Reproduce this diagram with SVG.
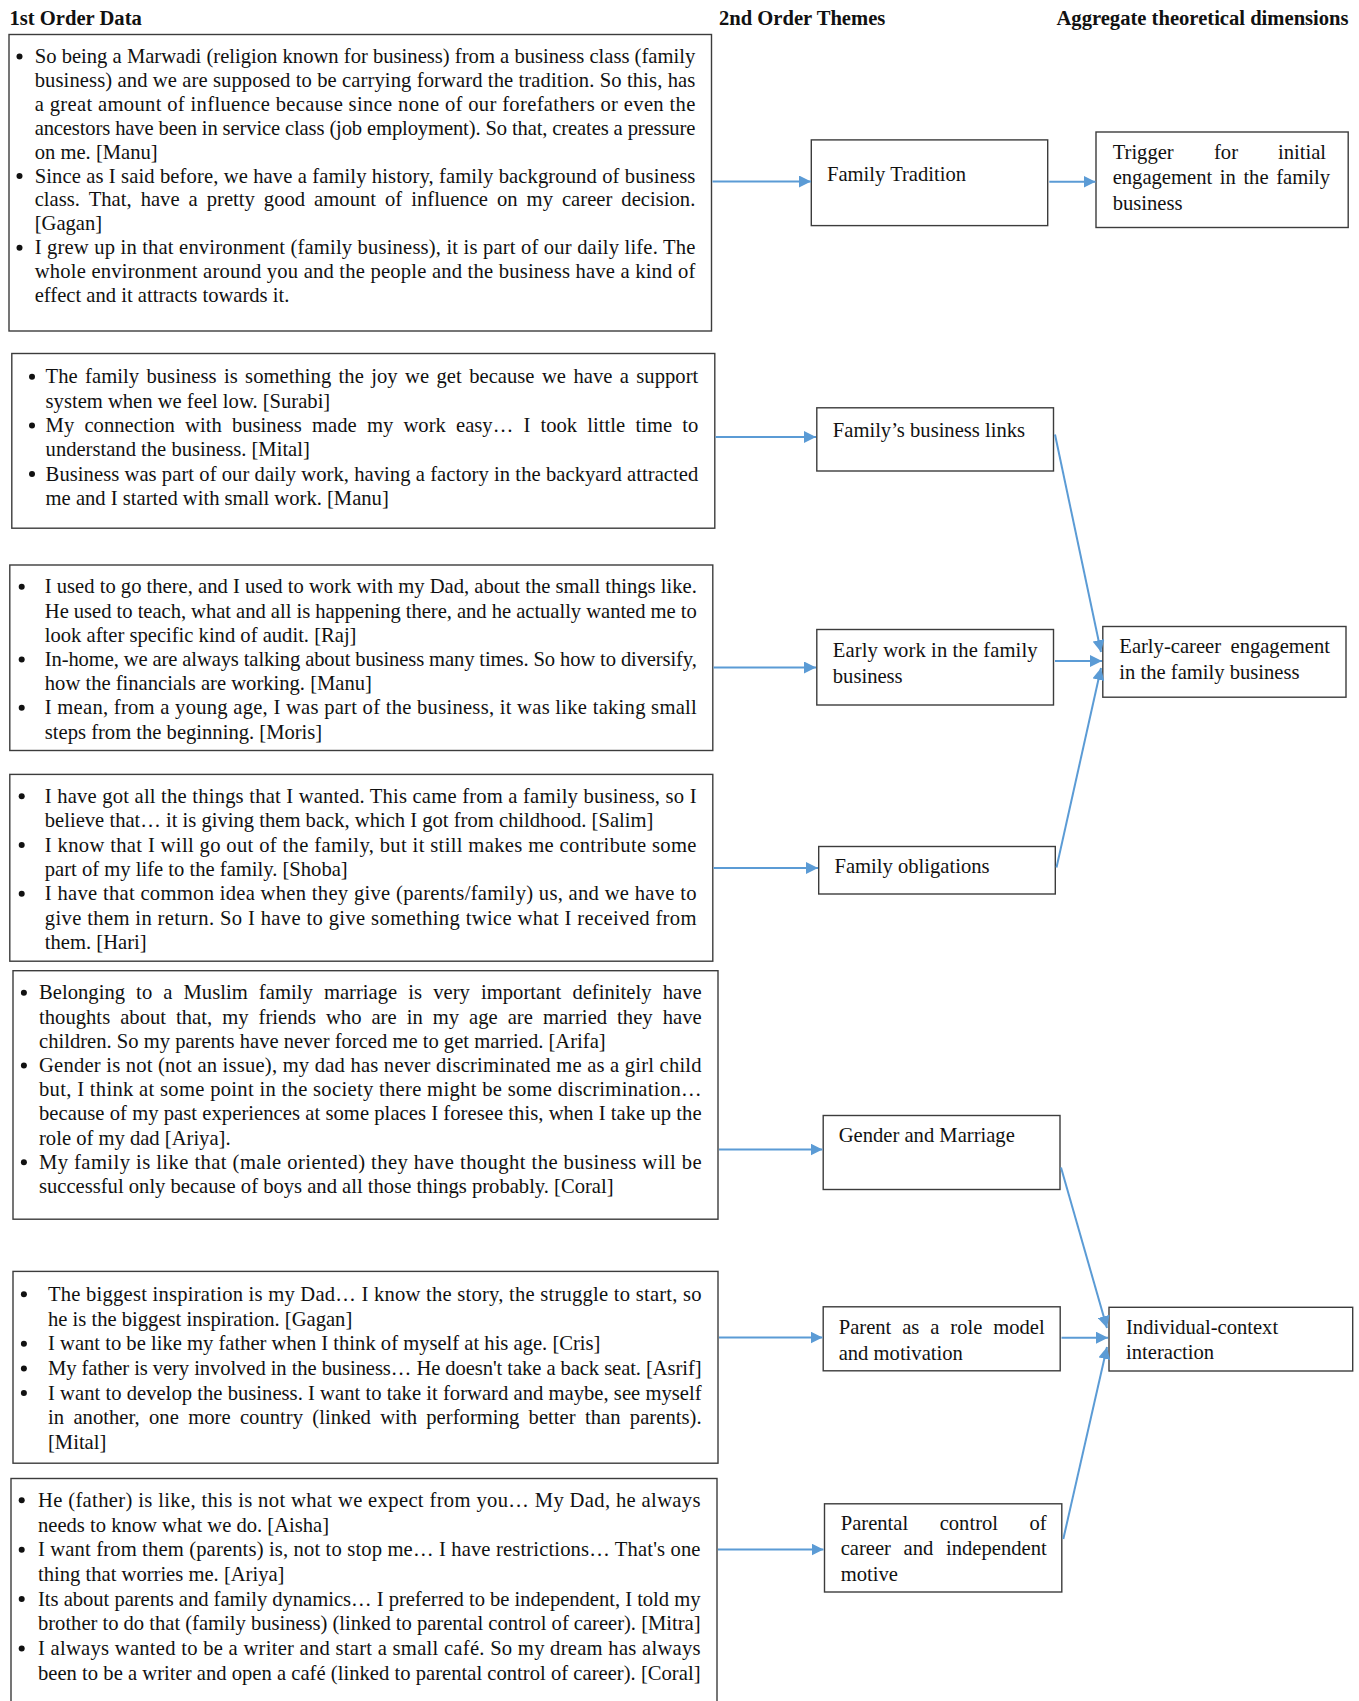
<svg xmlns="http://www.w3.org/2000/svg" width="1359" height="1701" viewBox="0 0 1359 1701">
<style>
.bg{fill:#ffffff}
.box{fill:none;stroke:#3c3c3c;stroke-width:1.4}
.t{font-family:"Liberation Serif","Times New Roman",serif;font-size:20.6px;fill:#111111}
.h{font-weight:bold}
.b{fill:#111111}
.c{stroke:#5B9BD5;stroke-width:2;fill:none;marker-end:url(#ah)}
</style>
<defs>
<marker id="ah" markerUnits="userSpaceOnUse" markerWidth="12" markerHeight="12" refX="12" refY="6" orient="auto">
<path d="M0,0 L12,6 L0,12 z" fill="#5B9BD5"/>
</marker>
</defs>
<rect class="bg" x="0" y="0" width="1359" height="1701"/>

<g id="headers">
<text class="t h" x="9.5" y="24.5">1st Order Data</text>
<text class="t h" x="719" y="24.5">2nd Order Themes</text>
<text class="t h" x="1056.5" y="24.5">Aggregate theoretical dimensions</text>
</g>

<g id="data1">
<rect class="box" x="9" y="34.5" width="702.5" height="296.5"/>
<circle class="b" cx="19.5" cy="56.5" r="3"/>
<circle class="b" cx="19.5" cy="176" r="3"/>
<circle class="b" cx="19.5" cy="247.7" r="3"/>
<text class="t" x="34.7" y="63" textLength="660.6" lengthAdjust="spacing">So being a Marwadi (religion known for business) from a business class (family</text>
<text class="t" x="34.7" y="86.9" textLength="660.6" lengthAdjust="spacing">business) and we are supposed to be carrying forward the tradition. So this, has</text>
<text class="t" x="34.7" y="110.8" textLength="660.6" lengthAdjust="spacing">a great amount of influence because since none of our forefathers or even the</text>
<text class="t" x="34.7" y="134.7" textLength="660.6" lengthAdjust="spacing">ancestors have been in service class (job employment). So that, creates a pressure</text>
<text class="t" x="34.7" y="158.6">on me. [Manu]</text>
<text class="t" x="34.7" y="182.5" textLength="660.6" lengthAdjust="spacing">Since as I said before, we have a family history, family background of business</text>
<text class="t" x="34.7" y="206.4" textLength="660.6" lengthAdjust="spacing" word-spacing="3.8">class. That, have a pretty good amount of influence on my career decision.</text>
<text class="t" x="34.7" y="230.3">[Gagan]</text>
<text class="t" x="34.7" y="254.2" textLength="660.6" lengthAdjust="spacing">I grew up in that environment (family business), it is part of our daily life. The</text>
<text class="t" x="34.7" y="278.1" textLength="660.6" lengthAdjust="spacing">whole environment around you and the people and the business have a kind of</text>
<text class="t" x="34.7" y="302">effect and it attracts towards it.</text>
</g>

<g id="data2">
<rect class="box" x="11.8" y="353.5" width="703" height="174.7"/>
<circle class="b" cx="32" cy="376.8" r="3"/>
<circle class="b" cx="32" cy="425.4" r="3"/>
<circle class="b" cx="32" cy="474" r="3"/>
<text class="t" x="45.6" y="383.3" textLength="652.7" lengthAdjust="spacing" word-spacing="2.2">The family business is something the joy we get because we have a support</text>
<text class="t" x="45.6" y="407.6">system when we feel low. [Surabi]</text>
<text class="t" x="45.6" y="431.9" textLength="652.7" lengthAdjust="spacing" word-spacing="5">My connection with business made my work easy… I took little time to</text>
<text class="t" x="45.6" y="456.2">understand the business. [Mital]</text>
<text class="t" x="45.6" y="480.5" textLength="652.7" lengthAdjust="spacing">Business was part of our daily work, having a factory in the backyard attracted</text>
<text class="t" x="45.6" y="504.8">me and I started with small work. [Manu]</text>
</g>

<g id="data3">
<rect class="box" x="9.8" y="565" width="703" height="185.5"/>
<circle class="b" cx="21.7" cy="586.8" r="3"/>
<circle class="b" cx="21.7" cy="659.4" r="3"/>
<circle class="b" cx="21.7" cy="707.8" r="3"/>
<text class="t" x="44.8" y="593.3" textLength="652" lengthAdjust="spacing">I used to go there, and I used to work with my Dad, about the small things like.</text>
<text class="t" x="44.8" y="617.5" textLength="652" lengthAdjust="spacing">He used to teach, what and all is happening there, and he actually wanted me to</text>
<text class="t" x="44.8" y="641.7">look after specific kind of audit. [Raj]</text>
<text class="t" x="44.8" y="665.9" textLength="652" lengthAdjust="spacing">In-home, we are always talking about business many times. So how to diversify,</text>
<text class="t" x="44.8" y="690.1">how the financials are working. [Manu]</text>
<text class="t" x="44.8" y="714.3" textLength="652" lengthAdjust="spacing">I mean, from a young age, I was part of the business, it was like taking small</text>
<text class="t" x="44.8" y="738.5">steps from the beginning. [Moris]</text>
</g>

<g id="data4">
<rect class="box" x="9.8" y="774.4" width="703" height="186.8"/>
<circle class="b" cx="21.7" cy="796.2" r="3"/>
<circle class="b" cx="21.7" cy="845" r="3"/>
<circle class="b" cx="21.7" cy="893.8" r="3"/>
<text class="t" x="44.8" y="802.7" textLength="651.7" lengthAdjust="spacing">I have got all the things that I wanted. This came from a family business, so I</text>
<text class="t" x="44.8" y="827.1">believe that… it is giving them back, which I got from childhood. [Salim]</text>
<text class="t" x="44.8" y="851.5" textLength="651.7" lengthAdjust="spacing">I know that I will go out of the family, but it still makes me contribute some</text>
<text class="t" x="44.8" y="875.9">part of my life to the family. [Shoba]</text>
<text class="t" x="44.8" y="900.3" textLength="651.7" lengthAdjust="spacing">I have that common idea when they give (parents/family) us, and we have to</text>
<text class="t" x="44.8" y="924.7" textLength="651.7" lengthAdjust="spacing">give them in return. So I have to give something twice what I received from</text>
<text class="t" x="44.8" y="949.1">them. [Hari]</text>
</g>

<g id="data5">
<rect class="box" x="13" y="970.7" width="705" height="248.5"/>
<circle class="b" cx="23.9" cy="992.8" r="3"/>
<circle class="b" cx="23.9" cy="1065.4" r="3"/>
<circle class="b" cx="23.9" cy="1162.2" r="3"/>
<text class="t" x="39" y="999.3" textLength="662.6" lengthAdjust="spacing" word-spacing="5.9">Belonging to a Muslim family marriage is very important definitely have</text>
<text class="t" x="39" y="1023.5" textLength="662.6" lengthAdjust="spacing" word-spacing="4.8">thoughts about that, my friends who are in my age are married they have</text>
<text class="t" x="39" y="1047.7">children. So my parents have never forced me to get married. [Arifa]</text>
<text class="t" x="39" y="1071.9" textLength="662.6" lengthAdjust="spacing">Gender is not (not an issue), my dad has never discriminated me as a girl child</text>
<text class="t" x="39" y="1096.1" textLength="662.6" lengthAdjust="spacing">but, I think at some point in the society there might be some discrimination…</text>
<text class="t" x="39" y="1120.3" textLength="662.6" lengthAdjust="spacing">because of my past experiences at some places I foresee this, when I take up the</text>
<text class="t" x="39" y="1144.5">role of my dad [Ariya].</text>
<text class="t" x="39" y="1168.7" textLength="662.6" lengthAdjust="spacing">My family is like that (male oriented) they have thought the business will be</text>
<text class="t" x="39" y="1192.9">successful only because of boys and all those things probably. [Coral]</text>
</g>

<g id="data6">
<rect class="box" x="13" y="1271.4" width="705" height="191.8"/>
<circle class="b" cx="23.9" cy="1294.3" r="3"/>
<circle class="b" cx="23.9" cy="1343.7" r="3"/>
<circle class="b" cx="23.9" cy="1368.4" r="3"/>
<circle class="b" cx="23.9" cy="1393.1" r="3"/>
<text class="t" x="48" y="1300.8" textLength="653.6" lengthAdjust="spacing">The biggest inspiration is my Dad… I know the story, the struggle to start, so</text>
<text class="t" x="48" y="1325.5">he is the biggest inspiration. [Gagan]</text>
<text class="t" x="48" y="1350.2">I want to be like my father when I think of myself at his age. [Cris]</text>
<text class="t" x="48" y="1374.9" textLength="653.6" lengthAdjust="spacing">My father is very involved in the business… He doesn't take a back seat. [Asrif]</text>
<text class="t" x="48" y="1399.6" textLength="653.6" lengthAdjust="spacing">I want to develop the business. I want to take it forward and maybe, see myself</text>
<text class="t" x="48" y="1424.3" textLength="653.6" lengthAdjust="spacing" word-spacing="4.1">in another, one more country (linked with performing better than parents).</text>
<text class="t" x="48" y="1449">[Mital]</text>
</g>

<g id="data7">
<rect class="box" x="11" y="1478.5" width="706" height="240"/>
<circle class="b" cx="21.7" cy="1500.3" r="3"/>
<circle class="b" cx="21.7" cy="1549.7" r="3"/>
<circle class="b" cx="21.7" cy="1599.1" r="3"/>
<circle class="b" cx="21.7" cy="1648.5" r="3"/>
<text class="t" x="38" y="1506.8" textLength="662.5" lengthAdjust="spacing">He (father) is like, this is not what we expect from you… My Dad, he always</text>
<text class="t" x="38" y="1531.5">needs to know what we do. [Aisha]</text>
<text class="t" x="38" y="1556.2" textLength="662.5" lengthAdjust="spacing">I want from them (parents) is, not to stop me… I have restrictions… That's one</text>
<text class="t" x="38" y="1580.9">thing that worries me. [Ariya]</text>
<text class="t" x="38" y="1605.6" textLength="662.5" lengthAdjust="spacing">Its about parents and family dynamics… I preferred to be independent, I told my</text>
<text class="t" x="38" y="1630.3" textLength="662.5" lengthAdjust="spacing">brother to do that (family business) (linked to parental control of career). [Mitra]</text>
<text class="t" x="38" y="1655" textLength="662.5" lengthAdjust="spacing">I always wanted to be a writer and start a small café. So my dream has always</text>
<text class="t" x="38" y="1679.7" textLength="662.5" lengthAdjust="spacing">been to be a writer and open a café (linked to parental control of career). [Coral]</text>
</g>

<g id="family-tradition">
<rect class="box" x="811.3" y="139.9" width="236.4" height="85.7"/>
<text class="t" x="827" y="181">Family Tradition</text>
</g>

<g id="trigger">
<rect class="box" x="1096" y="132" width="252.2" height="95.5"/>
<text class="t" y="158.8"><tspan x="1112.7">Trigger</tspan><tspan x="1214">for</tspan><tspan x="1278">initial</tspan></text>
<text class="t" y="184.2"><tspan x="1112.7">engagement</tspan><tspan x="1219.8">in</tspan><tspan x="1243.4">the</tspan><tspan x="1276.2">family</tspan></text>
<text class="t" x="1112.7" y="209.5">business</text>
</g>

<g id="family-business-links">
<rect class="box" x="816.8" y="407.8" width="236.7" height="63.2"/>
<text class="t" x="832.8" y="437">Family’s business links</text>
</g>

<g id="early-work">
<rect class="box" x="816.8" y="629.5" width="236.7" height="75.5"/>
<text class="t" x="832.8" y="656.8" textLength="204.7" lengthAdjust="spacing">Early work in the family</text>
<text class="t" x="832.8" y="682.6">business</text>
</g>

<g id="early-career">
<rect class="box" x="1102.8" y="626.5" width="243.2" height="70.7"/>
<text class="t" y="653.3"><tspan x="1119.3">Early-career</tspan><tspan x="1230.5">engagement</tspan></text>
<text class="t" x="1119.3" y="678.8">in the family business</text>
</g>

<g id="family-obligations">
<rect class="box" x="818.7" y="846.5" width="236.6" height="47.5"/>
<text class="t" x="834.5" y="873">Family obligations</text>
</g>

<g id="gender-marriage">
<rect class="box" x="823.2" y="1115.5" width="236.8" height="74"/>
<text class="t" x="838.7" y="1142">Gender and Marriage</text>
</g>

<g id="parent-role-model">
<rect class="box" x="823.2" y="1306.8" width="237" height="64"/>
<text class="t" y="1334.3"><tspan x="838.7">Parent</tspan><tspan x="902.2">as</tspan><tspan x="930.3">a</tspan><tspan x="950.3">role</tspan><tspan x="993.2">model</tspan></text>
<text class="t" x="838.7" y="1359.5">and motivation</text>
</g>

<g id="individual-context">
<rect class="box" x="1109" y="1307.3" width="243.7" height="63.7"/>
<text class="t" x="1126" y="1334.3">Individual-context</text>
<text class="t" x="1126" y="1359.3">interaction</text>
</g>

<g id="parental-control">
<rect class="box" x="824.5" y="1503.8" width="237.3" height="88.2"/>
<text class="t" y="1530"><tspan x="840.7">Parental</tspan><tspan x="939.7">control</tspan><tspan x="1029.5">of</tspan></text>
<text class="t" y="1555.3"><tspan x="840.7">career</tspan><tspan x="903.6">and</tspan><tspan x="946">independent</tspan></text>
<text class="t" x="840.7" y="1580.7">motive</text>
</g>

<g id="connectors">
<path class="c" d="M712.5,181.5 H811"/>
<path class="c" d="M1049.3,181.8 H1095.5"/>
<path class="c" d="M715.5,437 H816"/>
<path class="c" d="M713.5,667.5 H816"/>
<path class="c" d="M713.5,868 H818"/>
<path class="c" d="M1055,661 H1102"/>
<path class="c" d="M1055,434.5 L1101,652"/>
<path class="c" d="M1056.5,867.5 L1101,668"/>
<path class="c" d="M719,1149.5 H822.5"/>
<path class="c" d="M719,1337.5 H822.5"/>
<path class="c" d="M718,1549.5 H823.5"/>
<path class="c" d="M1061.5,1337.7 H1108"/>
<path class="c" d="M1061,1167.5 L1107,1328"/>
<path class="c" d="M1063.3,1539 L1107,1347"/>
</g>
</svg>
